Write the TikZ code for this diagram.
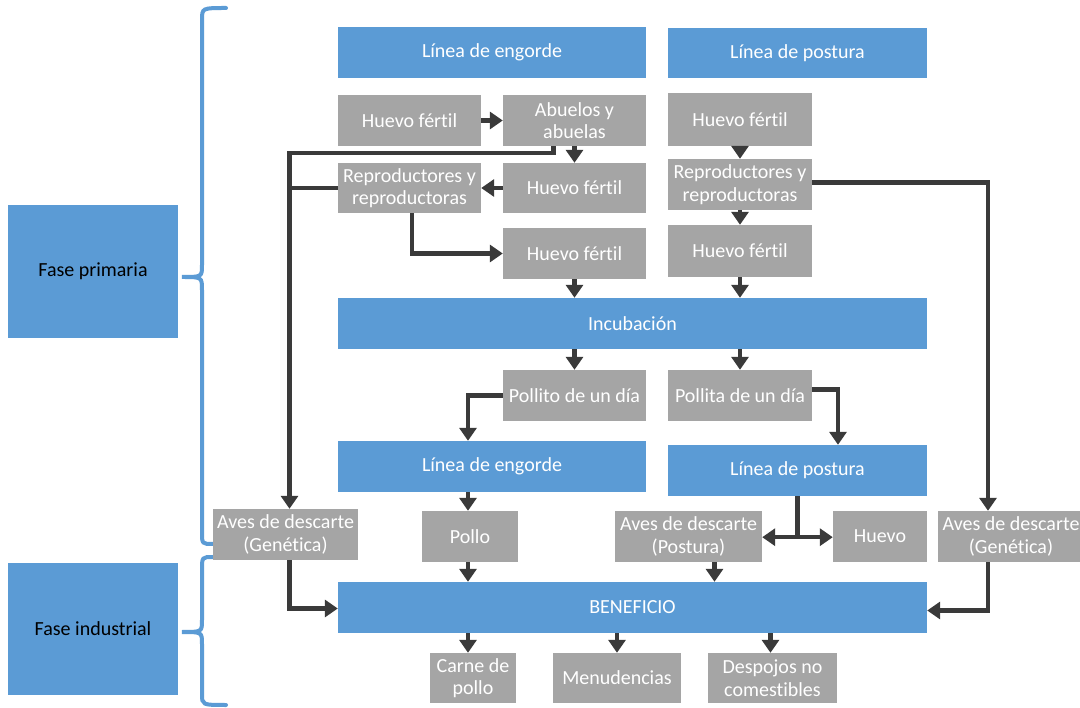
\documentclass[tikz,border=0pt]{standalone}
\usepackage{fontspec}
\setmainfont{Carlito}[Ligatures={NoCommon}]
\usetikzlibrary{arrows.meta,calc}
\definecolor{bl}{HTML}{5B9BD5}
\definecolor{gr}{HTML}{A5A5A5}
\definecolor{ac}{HTML}{3A3A3A}
\begin{document}
\begin{tikzpicture}[x=1pt,y=-1pt,
  box/.style={rectangle, inner sep=0pt, align=center, text=white, font=\fontsize{20}{22.5}\selectfont},
  bb/.style={box, fill=bl},
  gb/.style={box, fill=gr},
  sz/.style 2 args={minimum width=#1pt, minimum height=#2pt},
  link/.style={draw=ac, line width=4.5pt},
  arr/.style={link, -{Triangle[width=17pt,length=13pt]}},
  brace/.style={draw=bl, line width=4pt, line cap=round}
]
\clip (0,0) rectangle (1080,708);
\fill[white] (0,0) rectangle (1080,708);

% left phase boxes
\node[bb, sz={170}{133}, text=black] (fp) at (93,271.5) {Fase primaria};
\node[bb, sz={170}{132}, text=black] (fi) at (93,629) {Fase industrial};

% braces
\draw[brace] (226,8) .. controls (202,8) .. (202,20) -- (202,265)
  .. controls (202,277) .. (182,277) .. controls (202,277) .. (202,290)
  -- (202,532) .. controls (202,544) .. (213,544);
\draw[brace] (213,557) .. controls (202,557) .. (202,570) -- (202,620)
  .. controls (202,632) .. (182,632) .. controls (202,632) .. (202,644)
  -- (202,694) .. controls (202,705) .. (226,705);

% boxes
\node[bb, sz={308}{51}] (le1) at (492,52.5) {Línea de engorde};
\node[bb, sz={259}{50}] (lp1) at (797.5,53.5) {Línea de postura};
\node[gb, sz={143}{51}] (hf1) at (409.5,120.5) {Huevo fértil};
\node[gb, sz={143}{51}] (ab) at (574.5,120.5) {Abuelos y\\abuelas};
\node[gb, sz={144}{53}] (hf2) at (740,119.5) {Huevo fértil};
\node[gb, sz={143}{50}] (rep1) at (409.5,188) {Reproductores y\\reproductoras};
\node[gb, sz={143}{50}] (hf3) at (574.5,188) {Huevo fértil};
\node[gb, sz={144}{51}] (rep2) at (740,184.5) {Reproductores y\\reproductoras};
\node[gb, sz={143}{51}] (hf4) at (574.5,253.5) {Huevo fértil};
\node[gb, sz={144}{52}] (hf5) at (740,251) {Huevo fértil};
\node[bb, sz={589}{51}] (inc) at (632.5,323.5) {Incubación};
\node[gb, sz={143}{51}] (pollito) at (574.5,395.5) {Pollito de un día};
\node[gb, sz={144}{51}] (pollita) at (740,395.5) {Pollita de un día};
\node[bb, sz={308}{51}] (le2) at (492,466.5) {Línea de engorde};
\node[bb, sz={259}{51}] (lp2) at (797.5,470.5) {Línea de postura};
\node[gb, sz={145}{51}] (avg1) at (285.5,534.5) {Aves de descarte\\(Genética)};
\node[gb, sz={96}{51}] (pollo) at (470,536.5) {Pollo};
\node[gb, sz={147}{51}] (avp) at (688.5,536.5) {Aves de descarte\\(Postura)};
\node[gb, sz={94}{51}] (huevo) at (880,536.5) {Huevo};
\node[gb, sz={146}{51}] (avg2) at (1011,536.5) {Aves de descarte\\(Genética)};
\node[bb, sz={589}{51}] (benef) at (632.5,607.5) {BENEFICIO};
\node[gb, sz={86}{50}] (carne) at (473,678) {Carne de\\pollo};
\node[gb, sz={128}{50}] (menud) at (617,678) {Menudencias};
\node[gb, sz={129}{50}] (desp) at (772.5,678) {Despojos no\\comestibles};

% helper coordinates
\coordinate (vl) at ([xshift=4]avg1.north);
\coordinate (vr) at ([xshift=-23]avg2.north);
\coordinate (ve) at ([xshift=-24]le2.north);
\coordinate (vp) at ([xshift=40.5]lp2.north);

% connectors
\draw[arr] (hf1) -- (ab);
\draw[arr] (ab) -- (hf3);
\draw[arr] ([xshift=-21]ab.south) -- ++(0,7) -| (vl);
\draw[link] (rep1.west) -- (rep1.west -| vl);
\draw[arr] (hf3) -- (rep1);
\draw[arr] ([xshift=2.5]rep1.south) |- (hf4.west);
\draw[arr] (hf2) -- (rep2);
\draw[arr] (rep2) -- (hf5);
\draw[arr] ([yshift=2]rep2.east) -| (vr);
\draw[arr] (hf4) -- (hf4 |- inc.north);
\draw[arr] (hf5) -- (hf5 |- inc.north);
\draw[arr] (inc.south -| pollito) -- (pollito);
\draw[arr] (inc.south -| pollita) -- (pollita);
\draw[arr] (pollito.west) -| (ve);
\draw[arr] ([yshift=6]pollita.east) -| (vp);
\draw[arr] (le2.south -| ve) -- (pollo.north -| ve);
\draw[link] (lp2.south) -- ++(0,41) coordinate (sp);
\draw[arr] ([xshift=2]sp) -- (sp -| avp.east);
\draw[arr] ([xshift=-2]sp) -- (sp -| huevo.west);
\draw[arr] (pollo.south -| ve) -- (benef.north -| ve);
\draw[arr] ([xshift=26]avp.south) -- ([xshift=26]avp.south |- benef.north);
\draw[arr] (avg1.south -| vl) |- ([yshift=-1]benef.west);
\draw[arr] (avg2.south -| vr) |- ([yshift=-3]benef.east);
\draw[arr] ([xshift=-5]benef.south -| carne.north) -- ([xshift=-5]carne.north);
\draw[arr] (benef.south -| menud.north) -- (menud.north);
\draw[arr] ([xshift=-2]benef.south -| desp.north) -- ([xshift=-2]desp.north);
\end{tikzpicture}
\end{document}
